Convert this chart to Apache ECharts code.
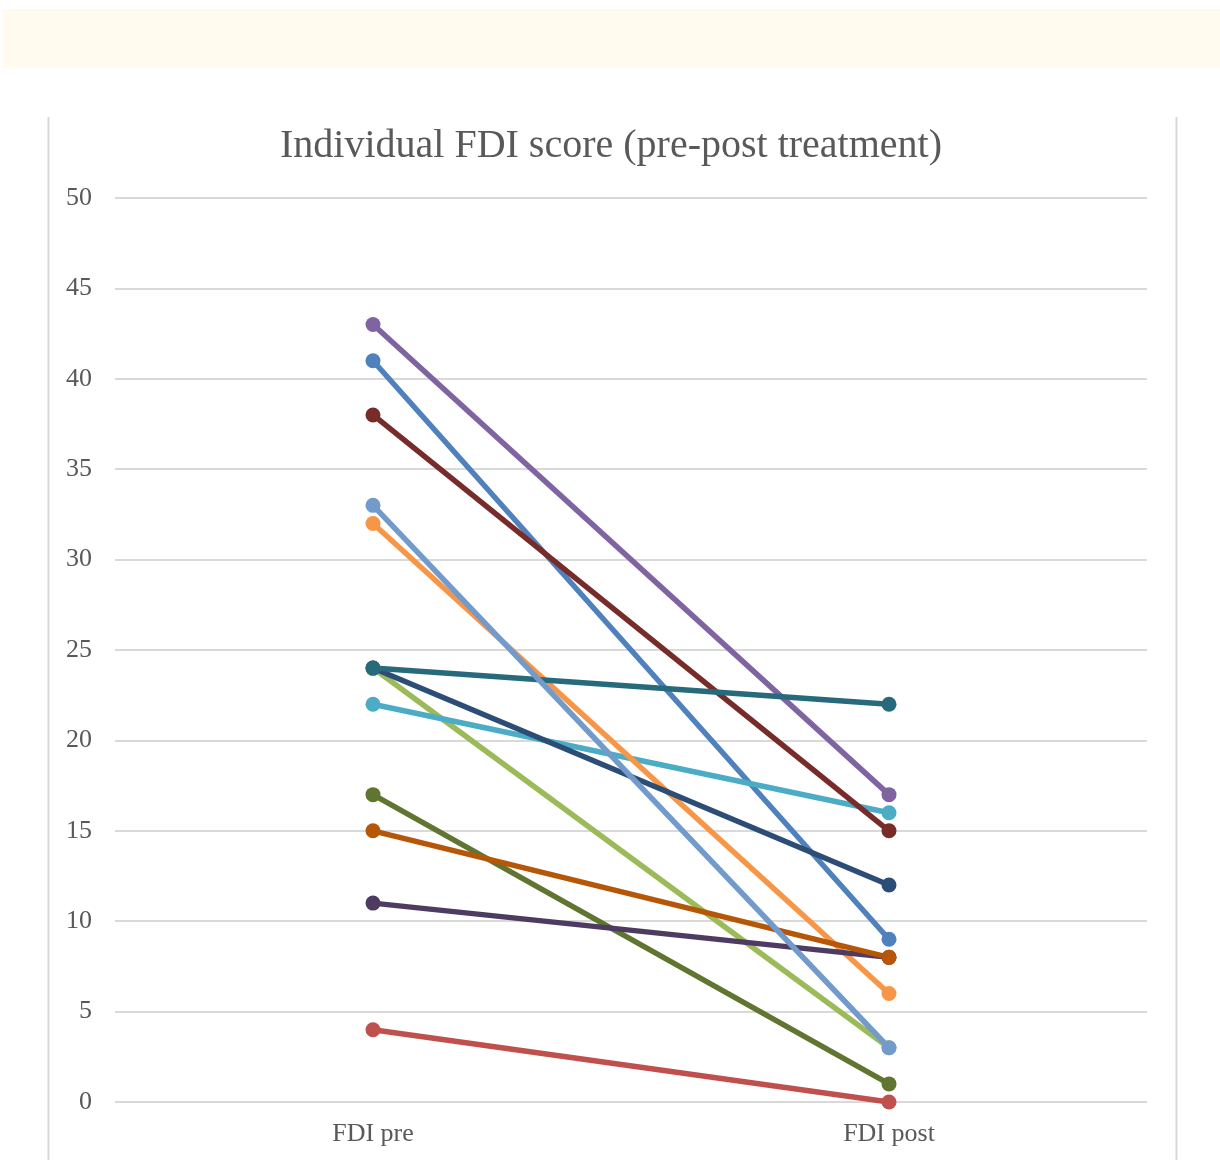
<!DOCTYPE html>
<html><head><meta charset="utf-8">
<script src="https://cdn.jsdelivr.net/npm/echarts@6/dist/echarts.min.js"></script>
<style>html,body{margin:0;padding:0;background:#fff}#c{width:1220px;height:1160px}</style>
</head><body><div id="c"></div>
<script>
const categories = ['FDI pre', 'FDI post'];
const yTicks = [0, 5, 10, 15, 20, 25, 30, 35, 40, 45, 50];
const s1 = [41, 9];
const s2 = [4, 0];
const s3 = [24, 3];
const s4 = [43, 17];
const s5 = [22, 16];
const s6 = [32, 6];
const s7 = [24, 12];
const s8 = [38, 15];
const s9 = [17, 1];
const s10 = [11, 8];
const s11 = [24, 22];
const s12 = [15, 8];
const s13 = [33, 3];
const seriesData = [s1, s2, s3, s4, s5, s6, s7, s8, s9, s10, s11, s12, s13];
const colors = ['#4F81BD', '#C0504D', '#9BBB59', '#8064A2', '#4BACC6', '#F79646',
  '#2C4D75', '#772C2A', '#5F7530', '#4D3B62', '#276A7C', '#B65708', '#729ACA'];

const chart = echarts.init(document.getElementById('c'));
chart.setOption({
  animation: false,
  backgroundColor: '#fff',
  graphic: [
    { type: 'rect', shape: { x: 3, y: 9, width: 1217, height: 59 }, style: { fill: '#FFFBEF' }, silent: true },
    { type: 'line', shape: { x1: 48.5, y1: 117, x2: 48.5, y2: 1160 }, style: { stroke: '#D9D9D9', lineWidth: 2 }, silent: true },
    { type: 'line', shape: { x1: 1176.5, y1: 117, x2: 1176.5, y2: 1160 }, style: { stroke: '#D9D9D9', lineWidth: 2 }, silent: true }
  ],
  title: {
    text: 'Individual FDI score (pre-post treatment)',
    left: 606, textAlign: 'center', top: 121,
    textStyle: { fontFamily: 'Liberation Serif', fontSize: 40, fontWeight: 'normal', color: '#595959' }
  },
  grid: { left: 115, right: 73, top: 198, bottom: 58, containLabel: false },
  xAxis: {
    type: 'category', data: categories, boundaryGap: true,
    axisLine: { show: false }, axisTick: { show: false },
    axisLabel: { fontFamily: 'Liberation Serif', fontSize: 26, color: '#595959', margin: 19 }
  },
  yAxis: {
    type: 'value', min: 0, max: 50, interval: 5,
    axisLine: { show: false }, axisTick: { show: false },
    splitLine: { lineStyle: { color: '#D9D9D9', width: 2 } },
    axisLabel: { fontFamily: 'Liberation Serif', fontSize: 26, color: '#595959', margin: 23 }
  },
  series: seriesData.map((d, i) => ({
    type: 'line', data: d, symbol: 'circle', symbolSize: 15,
    lineStyle: { width: 5.5, color: colors[i] },
    itemStyle: { color: colors[i] }
  }))
});
</script></body></html>
